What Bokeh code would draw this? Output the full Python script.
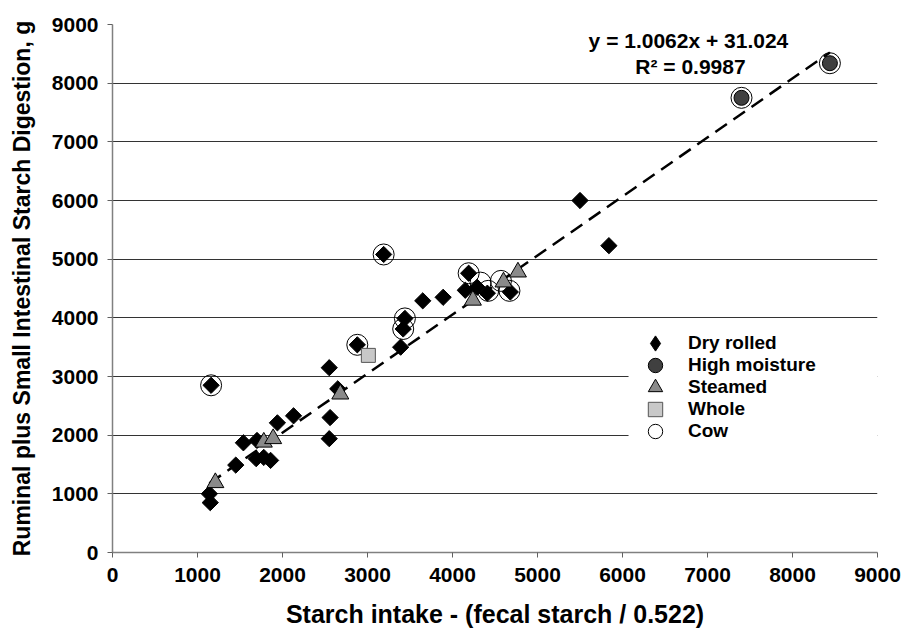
import numpy as np
from bokeh.plotting import figure
from bokeh.models import Range1d, FixedTicker, Legend, LegendItem, Label, BoxAnnotation
from bokeh.embed import file_html
from bokeh.resources import INLINE

# ---- data ----
dry_x = [1150, 1140, 1160, 1450, 1540, 1700, 1690, 1780, 1860, 1940, 2130, 2550, 2560, 2550, 2650,
         2880, 3190, 3390, 3440, 3420, 3650, 3890, 4150, 4190, 4290, 4410, 4680, 5500, 5840]
dry_y = [850, 1000, 2850, 1490, 1870, 1910, 1600, 1620, 1570, 2210, 2330, 3150, 2300, 1940, 2790,
         3540, 5080, 3500, 3990, 3810, 4290, 4350, 4470, 4760, 4520, 4420, 4440, 6000, 5230]
hm_x = [7400, 8440]
hm_y = [7750, 8340]
steam_x = [1210, 1780, 1890, 2680, 4240, 4600, 4770]
steam_y = [1190, 1880, 1940, 2700, 4300, 4610, 4780]
whole_x = [3010]
whole_y = [3360]
cow_x = [1160, 2880, 3190, 3440, 3420, 4190, 4330, 4420, 4570, 4670, 7400, 8440]
cow_y = [2850, 3540, 5080, 3990, 3810, 4760, 4600, 4460, 4630, 4460, 7750, 8340]
series_names = ["Dry rolled", "High moisture", "Steamed", "Whole", "Cow"]
slope = 1.0062
intercept = 31.024
r2 = 0.9987
ticks = [0, 1000, 2000, 3000, 4000, 5000, 6000, 7000, 8000, 9000]

FONT = "Liberation Sans"

p = figure(width=901, height=630, output_backend="svg", toolbar_location=None,
           x_range=Range1d(0, 9000), y_range=Range1d(0, 9000),
           min_border_left=112, min_border_right=24, min_border_top=24, min_border_bottom=78)
p.outline_line_color = None
p.background_fill_color = "white"
p.border_fill_color = "white"
p.xgrid.grid_line_color = None
p.ygrid.grid_line_color = "#333333"
p.ygrid.grid_line_width = 1
p.ygrid.ticker = FixedTicker(ticks=ticks)

for ax in (p.xaxis[0], p.yaxis[0]):
    ax.ticker = FixedTicker(ticks=ticks)
    ax.minor_tick_line_color = None
    ax.major_tick_in = 0
    ax.major_tick_out = 5
    ax.axis_line_color = "#808080"
    ax.axis_line_width = 1.5
    ax.major_tick_line_color = "#606060"
    ax.major_label_text_font = FONT
    ax.major_label_text_font_style = "bold"
    ax.major_label_text_font_size = "21px"
    ax.major_label_text_color = "black"
    ax.axis_label_text_font = FONT
    ax.axis_label_text_font_style = "bold"
    ax.axis_label_text_color = "black"

p.xaxis.axis_label = "Starch intake - (fecal starch / 0.522)"
p.xaxis.axis_label_text_font_size = "25px"
p.xaxis.major_label_standoff = 10
p.xaxis.axis_label_standoff = 15
p.yaxis.axis_label = "Ruminal plus Small Intestinal Starch Digestion, g"
p.yaxis.axis_label_text_font_size = "23px"
p.yaxis.major_label_standoff = 9
p.yaxis.axis_label_standoff = 14

# trend line
all_x = dry_x + hm_x + steam_x + whole_x
lx = np.array([min(all_x), max(all_x)], dtype=float)
ly = slope * lx + intercept
p.line(lx, ly, line_color="black", line_width=2.5, line_dash="14 8")

r_cow = p.scatter(cow_x, cow_y, marker="circle", size=21, fill_color="white", fill_alpha=0,
                  line_color="black", line_width=1)
r_dry = p.scatter(dry_x, dry_y, marker="square", angle=np.pi / 4, size=11.5,
                  fill_color="black", line_color="black")
r_hm = p.scatter(hm_x, hm_y, marker="circle", size=15, fill_color="#404040",
                 line_color="black", line_width=1)
r_st = p.scatter(steam_x, steam_y, marker="triangle", size=17, fill_color="#8a8a8a",
                 line_color="black", line_width=1)
r_wh = p.scatter(whole_x, whole_y, marker="square", size=14, fill_color="#c8c8c8",
                 line_color="#555555", line_width=1)
# hidden twin used only for the legend glyph (legend ignores marker angle)
lg_dry = p.scatter(dry_x, dry_y, marker="diamond", fill_color="black", line_color="black",
                   visible=False)

# white legend panel
p.add_layout(BoxAnnotation(left=6071, right=9000, top=3784, bottom=1858,
                           fill_color="white", fill_alpha=1, line_color=None))

# one legend per entry so the rows can be packed tightly
renderers = [lg_dry, r_hm, r_st, r_wh, r_cow]
glyph_sizes = [38, 36, 36, 36, 36]
row_y = [190, 169, 147, 125, 103]
for name, rend, gs, ry in zip(series_names, renderers, glyph_sizes, row_y):
    lg = Legend(items=[LegendItem(label=name, renderers=[rend])],
                location=(543 - gs // 2, ry))
    lg.label_text_font = FONT
    lg.label_text_font_style = "bold"
    lg.label_text_font_size = "19px"
    lg.label_text_color = "black"
    lg.label_height = 20
    lg.glyph_height = gs
    lg.glyph_width = gs
    lg.label_standoff = 33 - gs // 2
    lg.spacing = 0
    lg.padding = 0
    lg.margin = 0
    lg.border_line_color = None
    lg.background_fill_alpha = 0
    p.add_layout(lg, "center")

eq_font = dict(text_font=FONT, text_font_style="bold", text_font_size="21px",
               text_align="center", text_baseline="middle", text_color="black")
p.add_layout(Label(x=6776, y=8727, text="y = %.4fx + %.3f" % (slope, intercept), **eq_font))
p.add_layout(Label(x=6800, y=8284, text="R² = %.4f" % r2, **eq_font))

open("out.html", "w").write(file_html(p, INLINE))
